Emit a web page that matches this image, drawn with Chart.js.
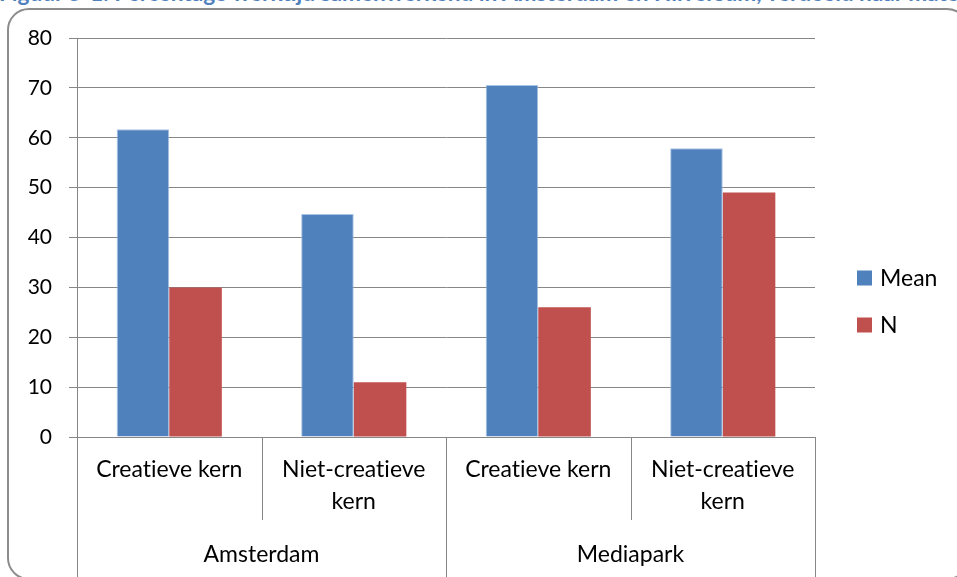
<!DOCTYPE html>
<html>
<head>
<meta charset="utf-8">
<script src="https://cdn.jsdelivr.net/npm/chart.js@4"></script>
<style>
  html, body { margin: 0; padding: 0; background: #fff; }
  body { width: 957px; height: 577px; position: relative; overflow: hidden; }
  #caption {
    position: absolute; left: -1px; top: -20.5px; white-space: nowrap;
    font: bold 22.6px Lato, sans-serif; color: #4F81BD; line-height: 26px;
    font-variant-ligatures: none;
  }
  #frame {
    position: absolute; left: 7px; top: 8px; width: 962px; height: 572px;
    border: 2px solid #8c8c8c; border-radius: 22px; box-sizing: border-box;
  }
  #wrap { position: absolute; left: 0; top: 0; width: 957px; height: 577px; }
</style>
</head>
<body>
<div id="caption">Figuur 5-1: Percentage werktijd samenwerkend in Amsterdam en Hilversum, verdeeld naar mate van creativiteit</div>
<div id="frame"></div>
<div id="wrap"><canvas id="chart" width="957" height="577"></canvas></div>
<script>
// Sub-categories per location, and the location groups they belong to
const subCategories = ['Creatieve kern', ['Niet-creatieve', 'kern'], 'Creatieve kern', ['Niet-creatieve', 'kern']];
const groups = ['Amsterdam', 'Mediapark'];
const groupSize = 2;

// Series
const meanValues = [61.7, 44.7, 70.6, 57.9];
const nValues = [30, 11, 26, 49];

const yTicks = [0, 10, 20, 30, 40, 50, 60, 70, 80];

const GRID = '#878787';
const FONT = 'Lato, sans-serif';

// Plain glyphs, no ligatures, for all canvas text
const plainTextPlugin = {
  id: 'plainText',
  beforeDraw(chart) {
    const ctx = chart.ctx;
    if ('textRendering' in ctx) ctx.textRendering = 'optimizeSpeed';
    if ('fontVariantLigatures' in ctx) ctx.fontVariantLigatures = 'none';
  }
};

// Separators below the category axis and the location labels
const groupAxisPlugin = {
  id: 'groupAxis',
  afterDraw(chart) {
    const x = chart.scales.x;
    const ctx = chart.ctx;
    const n = x.getLabels().length;
    const half = (x.getPixelForValue(1) - x.getPixelForValue(0)) / 2;
    const top = chart.chartArea.bottom;
    ctx.save();
    ctx.strokeStyle = GRID;
    ctx.lineWidth = 1;
    for (let i = 0; i <= n; i++) {
      const px = Math.round(x.getPixelForValue(i) - half) + 0.5;
      const bottom = (i % groupSize === 0) ? chart.height : top + 83;
      ctx.beginPath();
      ctx.moveTo(px, top);
      ctx.lineTo(px, bottom);
      ctx.stroke();
    }
    ctx.fillStyle = '#000';
    ctx.font = '23px ' + FONT;
    ctx.textAlign = 'center';
    ctx.textBaseline = 'alphabetic';
    groups.forEach((g, gi) => {
      const left = x.getPixelForValue(gi * groupSize) - half;
      const right = x.getPixelForValue(gi * groupSize + groupSize - 1) + half;
      ctx.fillText(g, (left + right) / 2, top + 125);
    });
    ctx.restore();
  }
};

// Legend drawn to the right of the plot
const sideLegendPlugin = {
  id: 'sideLegend',
  afterDraw(chart) {
    const ctx = chart.ctx;
    const area = chart.chartArea;
    ctx.save();
    ctx.font = '23px ' + FONT;
    ctx.textBaseline = 'middle';
    ctx.textAlign = 'left';
    chart.data.datasets.forEach((ds, i) => {
      const bx = area.right + 42;
      const cy = area.top + 240 + i * 47;
      ctx.fillStyle = ds.backgroundColor;
      ctx.fillRect(bx, cy - 7.5, 15, 15);
      ctx.fillStyle = '#000';
      ctx.fillText(ds.label, bx + 23, cy + 1);
    });
    ctx.restore();
  }
};

new Chart(document.getElementById('chart'), {
  type: 'bar',
  data: {
    labels: subCategories,
    datasets: [
      { label: 'Mean', data: meanValues, backgroundColor: '#4F81BD', borderColor: 'rgba(160,190,225,0.9)', borderWidth: 1 },
      { label: 'N', data: nValues, backgroundColor: '#C0504D', borderWidth: 0 }
    ]
  },
  options: {
    responsive: false,
    animation: false,
    layout: { padding: { top: 38, right: 142, left: 0, bottom: 0 } },
    datasets: { bar: { categoryPercentage: 0.57, barPercentage: 1.0 } },
    plugins: {
      legend: { display: false },
      tooltip: { enabled: false }
    },
    scales: {
      x: {
        grid: { display: false },
        border: { display: false },
        ticks: {
          color: '#000',
          font: { family: FONT, size: 23, lineHeight: 1.4 },
          padding: 8,
          maxRotation: 0,
          autoSkip: false
        },
        afterFit(scale) { scale.height = 140; }
      },
      y: {
        min: 0,
        max: 80,
        afterBuildTicks(scale) { scale.ticks = yTicks.map(v => ({ value: v })); },
        grid: { color: GRID, lineWidth: 1, tickLength: 8 },
        border: { color: GRID, width: 1 },
        ticks: {
          color: '#000',
          font: { family: FONT, size: 21 },
          padding: 17
        },
        afterFit(scale) { scale.width = 77; }
      }
    }
  },
  plugins: [plainTextPlugin, groupAxisPlugin, sideLegendPlugin]
});
</script>
</body>
</html>
